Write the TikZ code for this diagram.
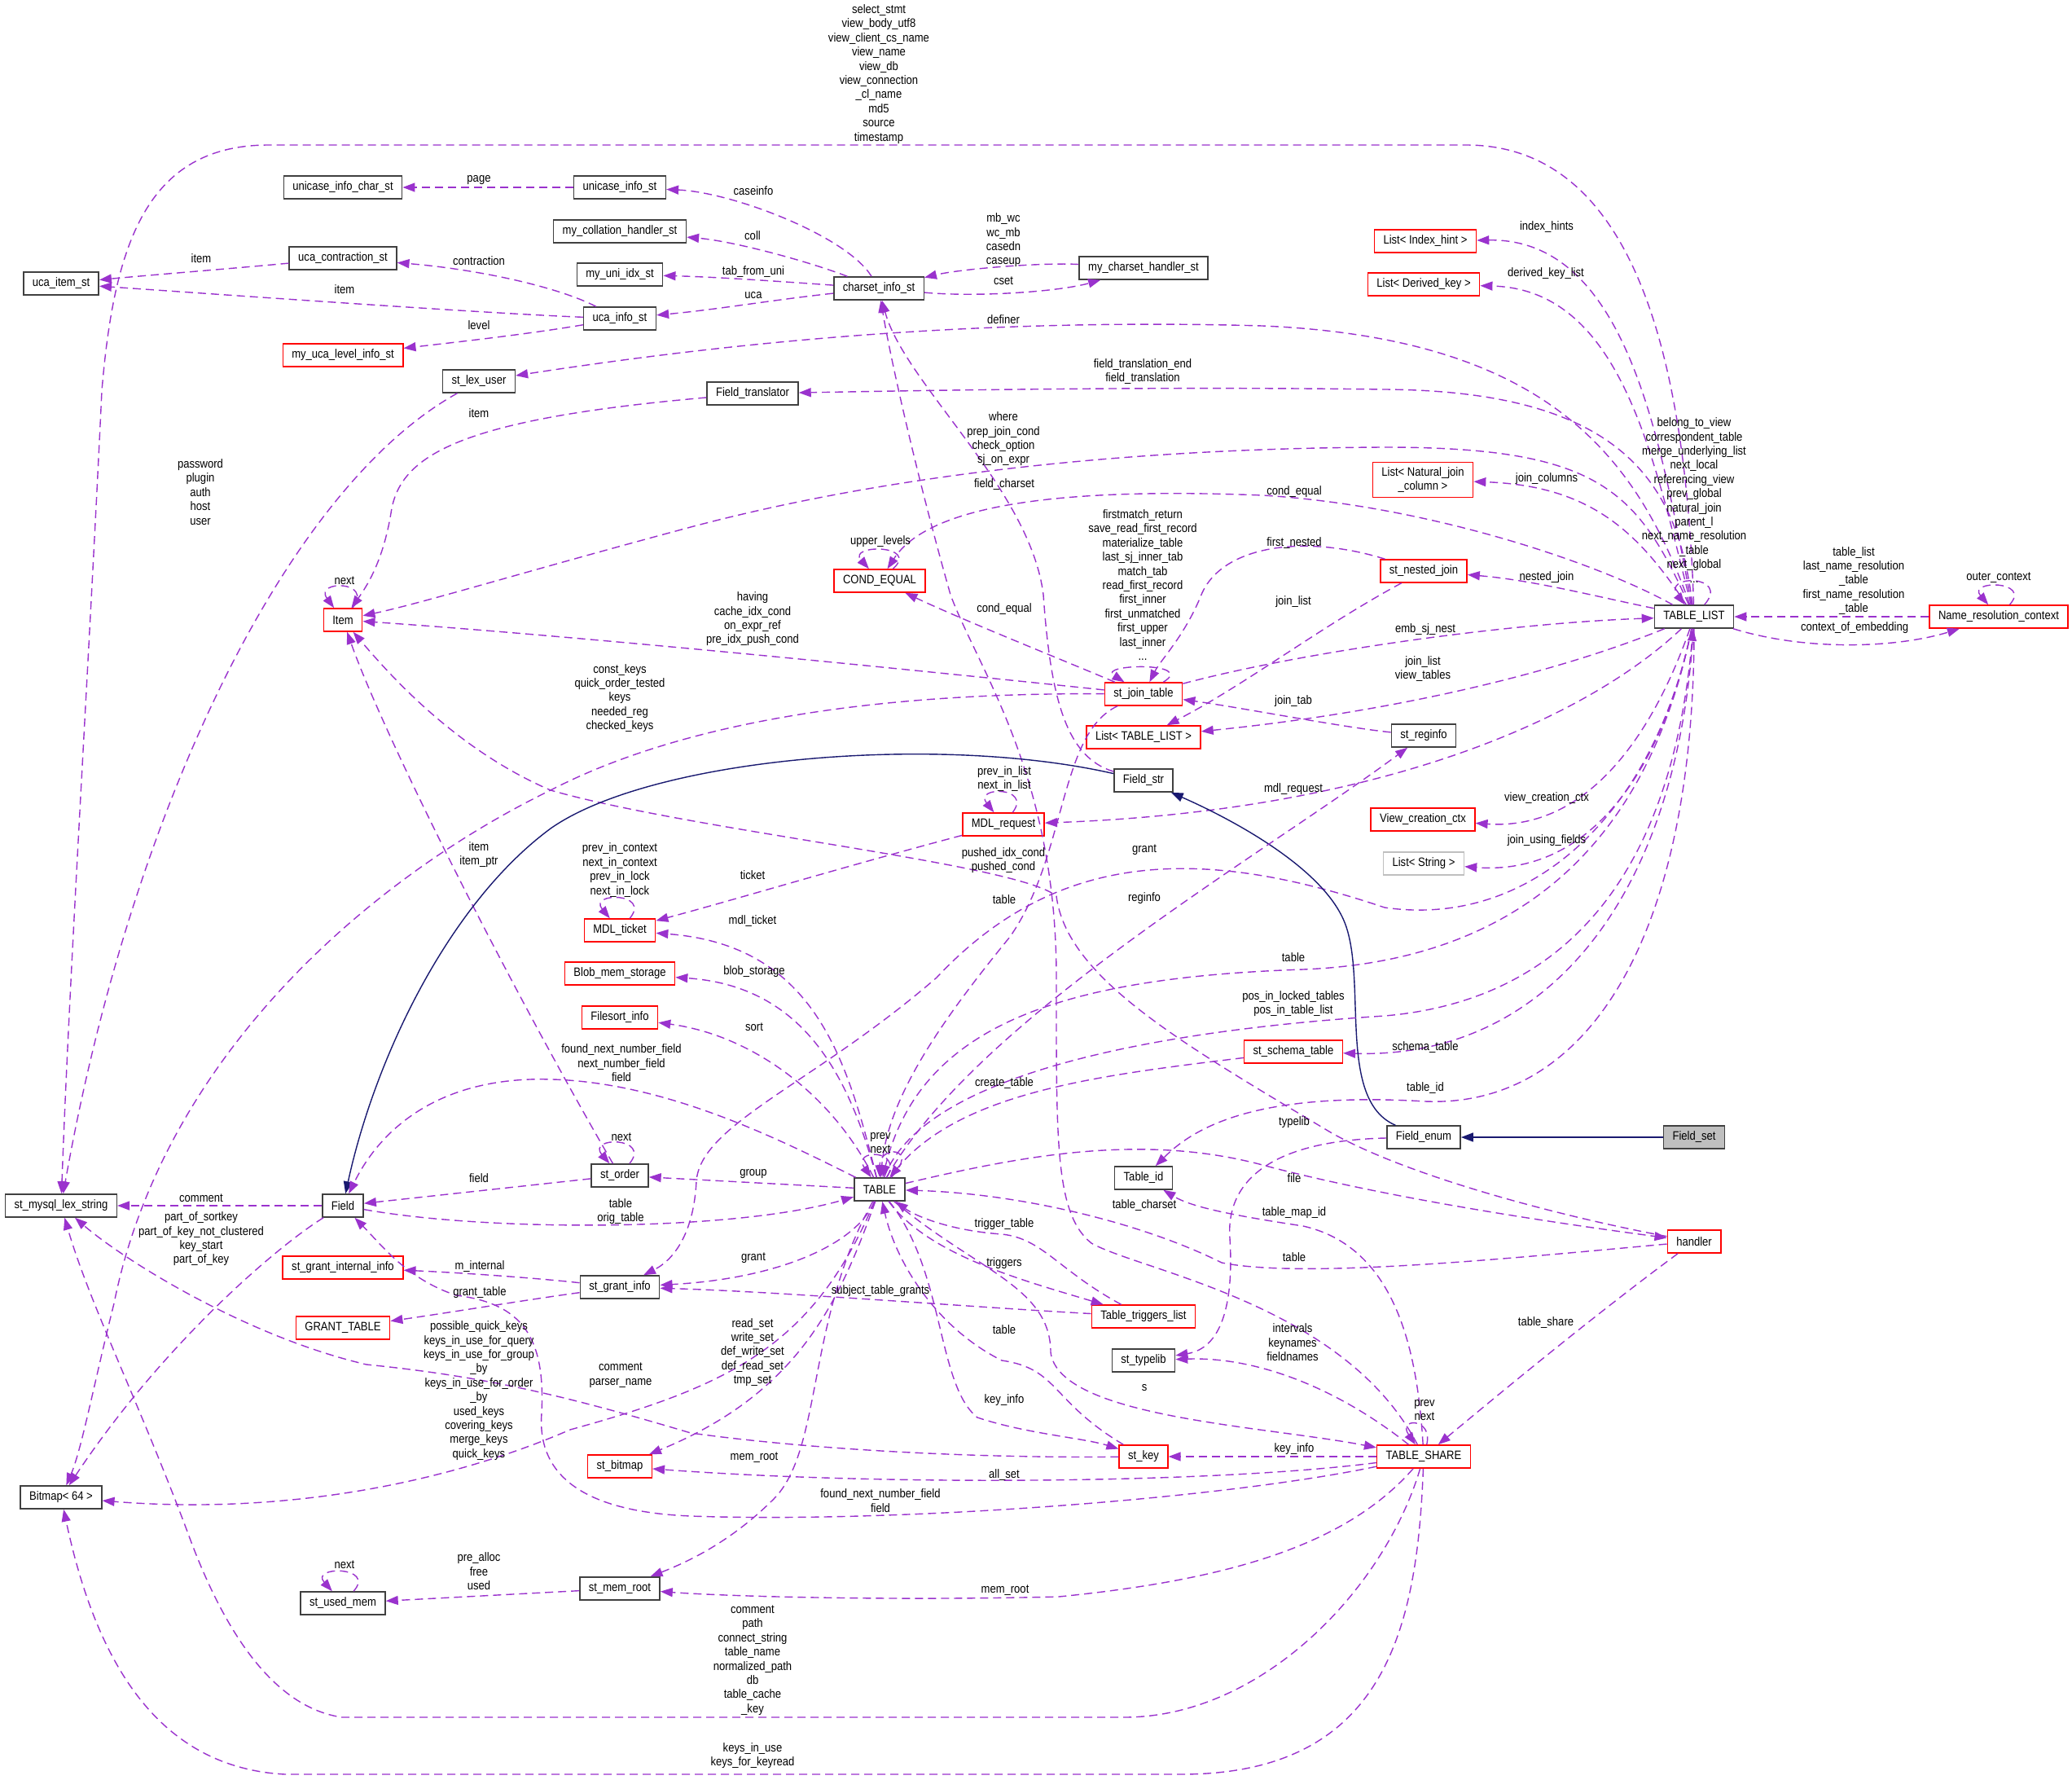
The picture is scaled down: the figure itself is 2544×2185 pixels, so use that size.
\documentclass[tikz,border=0pt]{standalone}
\usepackage{fontspec}
\setmainfont[FakeStretch=0.87]{Liberation Sans}
\usetikzlibrary{arrows.meta}
\definecolor{edgepurple}{HTML}{9A32CD}
\definecolor{inhblue}{HTML}{191970}
\definecolor{boxgray}{HTML}{404040}
\definecolor{undocred}{HTML}{FF0000}
\definecolor{extgray}{HTML}{BFBFBF}

\begin{document}
\begin{tikzpicture}[
  x=1pt, y=-1pt,
  font=\fontsize{15}{17.4}\selectfont,
  cls/.style={
    draw=boxgray, line width=1.5pt, fill=white,
    minimum height=28pt, inner xsep=11pt, inner ysep=2pt, align=center
  },
  undoc/.style={cls, draw=undocred},
  ext/.style={cls, draw=extgray},
  self/.style={cls, fill=extgray},
  dep/.style={
    draw=edgepurple, line width=1.4pt, dash pattern=on 10pt off 6pt,
    -{Triangle[length=15pt, width=11pt]}
  },
  inh/.style={draw=inhblue, line width=1.4pt, -{Triangle[length=15pt, width=11pt]}},
  lab/.style={align=center, inner sep=0pt}
]
\useasboundingbox (0,0) rectangle (2544,2185);

% --- 1. Classes ---
\node[cls] (ucaitem) at (75,348) {uca\_item\_st};
\node[cls] (unichar) at (421,230) {unicase\_info\_char\_st};
\node[cls] (ucacontr) at (421,317) {uca\_contraction\_st};
\node[undoc] (ucalevel) at (421,436) {my\_uca\_level\_info\_st};
\node[cls] (unicase) at (761,230) {unicase\_info\_st};
\node[cls] (collh) at (761,284) {my\_collation\_handler\_st};
\node[cls] (uniidx) at (761,337) {my\_uni\_idx\_st};
\node[cls] (ucainfo) at (761,391) {uca\_info\_st};
\node[cls] (lexuser) at (588,468) {st\_lex\_user};
\node[cls] (charset) at (1079,354) {charset\_info\_st};
\node[cls] (cshandler) at (1404,329) {my\_charset\_handler\_st};
\node[cls] (ftrans) at (924,483) {Field\_translator};
\node[undoc] (condeq) at (1080,713) {COND\_EQUAL};
\node[undoc] (item) at (421,761) {Item};
\node[undoc] (idxhint) at (1750,296) {List< Index\_hint >};
\node[undoc] (derkey) at (1748,349) {List< Derived\_key >};
\node[undoc, inner ysep=6pt] (natjoin) at (1747,589) {List< Natural\_join\\\_column >};
\node[undoc] (nestjoin) at (1748,701) {st\_nested\_join};
\node[cls] (tlist) at (2080,757) {TABLE\_LIST};
\node[undoc] (nrctx) at (2454,757) {Name\_resolution\_context};
\node[undoc] (jtab) at (1404,852) {st\_join\_table};
\node[undoc] (tllist) at (1404,905) {List< TABLE\_LIST >};
\node[cls] (reginfo) at (1748,903) {st\_reginfo};
\node[cls] (fstr) at (1404,958) {Field\_str};
\node[undoc] (mdlreq) at (1232,1012) {MDL\_request};
\node[undoc] (vctx) at (1747,1006) {View\_creation\_ctx};
\node[ext] (lstr) at (1748,1060) {List< String >};
\node[undoc] (mdlticket) at (761,1142) {MDL\_ticket};
\node[undoc] (blob) at (761,1195) {Blob\_mem\_storage};
\node[undoc] (fsort) at (761,1249) {Filesort\_info};
\node[undoc] (schema) at (1588,1291) {st\_schema\_table};
\node[cls] (fenum) at (1748,1396) {Field\_enum};
\node[self] (fset) at (2080,1396) {Field\_set};
\node[cls] (order) at (761,1443) {st\_order};
\node[cls] (tableid) at (1404,1446) {Table\_id};
\node[cls] (table) at (1080,1460) {TABLE};
\node[cls] (lexstr) at (75,1480) {st\_mysql\_lex\_string};
\node[cls] (field) at (421,1480) {Field};
\node[undoc] (handler) at (2080,1524) {handler};
\node[undoc] (grantint) at (421,1556) {st\_grant\_internal\_info};
\node[cls] (grantinfo) at (761,1580) {st\_grant\_info};
\node[undoc] (granttab) at (421,1630) {GRANT\_TABLE};
\node[undoc] (trig) at (1404,1616) {Table\_triggers\_list};
\node[cls] (typelib) at (1404,1670) {st\_typelib};
\node[undoc] (stkey) at (1404,1788) {st\_key};
\node[undoc] (tshare) at (1748,1788) {TABLE\_SHARE};
\node[undoc] (bitmap) at (761,1800) {st\_bitmap};
\node[cls] (bitmapsf) at (75,1838) {Bitmap< 64 >};
\node[cls] (usedmem) at (421,1968) {st\_used\_mem};
\node[cls] (memroot) at (761,1950) {st\_mem\_root};

% --- 2. Charset members ---
\draw[dep] (unicase) -- (unichar);
\draw[dep] (charset) .. controls (1040,290) and (900,236) .. (unicase);
\draw[dep] (charset) .. controls (990,320) and (900,296) .. (collh);
\draw[dep] (charset) .. controls (950,345) and (880,340) .. (uniidx);
\draw[dep] (charset) .. controls (950,368) and (880,380) .. (ucainfo);
\draw[dep] (charset) .. controls (1200,365) and (1300,358) .. (cshandler);
\draw[dep] (cshandler) .. controls (1280,322) and (1180,330) .. (charset);
\draw[dep] (ucacontr) .. controls (280,330) and (180,338) .. (ucaitem);
\draw[dep] (ucainfo) .. controls (680,350) and (580,330) .. (ucacontr);
\draw[dep] (ucainfo) .. controls (600,385) and (250,360) .. (ucaitem);
\draw[dep] (ucainfo) .. controls (650,410) and (560,420) .. (ucalevel);
\draw[dep] (tshare) .. controls (1650,1600) and (1400,1560) .. (1340,1526)
  .. controls (1295,1490) and (1297,1400) .. (1297,1200)
  .. controls (1297,950) and (1200,820) .. (1167,730)
  .. controls (1130,600) and (1095,450) .. (charset);
\draw[dep] (fstr) .. controls (1310,930) and (1290,860) .. (1281,730)
  .. controls (1265,600) and (1110,470) .. (charset);

% --- 3. TABLE_LIST members ---
\draw[dep] (tlist) .. controls (2070,450) and (2010,178) .. (1800,178) -- (330,178)
  .. controls (180,178) and (140,300) .. (125,480)
  .. controls (110,800) and (85,1200) .. (lexstr);
\draw[dep] (lexuser) .. controls (350,600) and (160,1000) .. (lexstr);
\draw[dep] (tlist) .. controls (2010,560) and (1900,415) .. (1550,400)
  .. controls (1200,390) and (900,420) .. (lexuser);
\draw[dep] (tlist) .. controls (2060,600) and (2000,480) .. (1700,478)
  .. controls (1400,474) and (1100,480) .. (ftrans);
\draw[dep] (tlist) .. controls (2010,600) and (1960,549) .. (1700,549)
  .. controls (1400,550) and (1100,580) .. (848,647)
  .. controls (650,700) and (520,740) .. (item);
\draw[dep] (tlist) .. controls (1960,690) and (1750,620) .. (1550,608)
  .. controls (1300,598) and (1140,620) .. (condeq);
\draw[dep] (nrctx) -- (tlist);
\draw[dep] (tlist) .. controls (2220,800) and (2330,795) .. (nrctx);
\draw[dep] (nrctx) .. controls (2495,712) and (2415,712) .. (nrctx);
\draw[dep] (tlist) .. controls (2125,705) and (2040,705) .. (tlist);
\draw[dep] (tlist) .. controls (2040,550) and (2000,292) .. (idxhint);
\draw[dep] (tlist) .. controls (2030,560) and (1990,355) .. (derkey);
\draw[dep] (tlist) .. controls (2010,650) and (1950,596) .. (natjoin);
\draw[dep] (tlist) .. controls (1950,730) and (1880,712) .. (nestjoin);
\draw[dep] (tlist) .. controls (1900,830) and (1700,875) .. (tllist);
\draw[dep] (tlist) .. controls (1950,880) and (1700,995) .. (mdlreq);
\draw[dep] (tlist) .. controls (2030,900) and (1950,1020) .. (vctx);
\draw[dep] (tlist) .. controls (2040,950) and (1950,1075) .. (lstr);
\draw[dep] (tlist) .. controls (2060,1100) and (1900,1300) .. (schema);
\draw[dep] (tlist) .. controls (2080,1150) and (1950,1360) .. (1750,1352)
  .. controls (1550,1340) and (1470,1380) .. (tableid);
\draw[dep] (tlist) .. controls (2020,1050) and (1850,1180) .. (1600,1190)
  .. controls (1300,1200) and (1130,1260) .. (table);
\draw[dep] (tlist) .. controls (2030,1000) and (1880,1140) .. (1700,1114)
  .. controls (1480,1040) and (1300,1040) .. (1150,1200)
  .. controls (1000,1330) and (860,1380) .. (855,1450)
  .. controls (852,1510) and (830,1545) .. (grantinfo);

% --- 4. Join tables ---
\draw[dep] (ftrans) .. controls (560,515) and (490,560) .. (480,630)
  .. controls (470,690) and (450,720) .. (item);
\draw[dep] (item) .. controls (460,712) and (385,712) .. (item);
\draw[dep] (jtab) .. controls (1100,820) and (700,780) .. (item);
\draw[dep] (jtab) .. controls (1470,812) and (1345,815) .. (jtab);
\draw[dep] (jtab) .. controls (1280,800) and (1180,760) .. (condeq);
\draw[dep] (condeq) .. controls (1130,668) and (1040,668) .. (condeq);
\draw[dep] (jtab) .. controls (1600,800) and (1850,765) .. (tlist);
\draw[dep] (nestjoin) .. controls (1600,655) and (1500,670) .. (1475,730)
  .. controls (1455,780) and (1425,810) .. (jtab);
\draw[dep] (nestjoin) .. controls (1620,770) and (1530,840) .. (tllist);
\draw[dep] (reginfo) .. controls (1650,893) and (1520,868) .. (jtab);
\draw[dep] (jtab) .. controls (1300,900) and (1310,1050) .. (1240,1150)
  .. controls (1150,1260) and (1090,1350) .. (table);
\draw[dep] (jtab) .. controls (1100,850) and (850,880) .. (676,970)
  .. controls (450,1080) and (200,1300) .. (140,1600)
  .. controls (115,1700) and (100,1780) .. (bitmapsf);
\draw[dep] (handler) .. controls (1900,1490) and (1720,1440) .. (1632,1389)
  .. controls (1450,1280) and (1310,1200) .. (1297,1100)
  .. controls (1250,1060) and (850,1020) .. (676,970)
  .. controls (560,920) and (480,830) .. (item);
\draw[dep] (order) .. controls (620,1200) and (470,900) .. (item);

% --- 5. Locks ---
\draw[dep] (mdlreq) .. controls (1268,965) and (1195,965) .. (mdlreq);
\draw[dep] (mdlreq) .. controls (1050,1060) and (900,1105) .. (mdlticket);
\draw[dep] (mdlticket) .. controls (800,1095) and (722,1095) .. (mdlticket);

% --- 6. Field hierarchy ---
\draw[inh] (fstr) .. controls (1150,900) and (800,930) .. (676,1017)
  .. controls (550,1110) and (460,1300) .. (field);
\draw[inh] (fenum) .. controls (1640,1350) and (1680,1200) .. (1650,1130)
  .. controls (1620,1060) and (1500,1000) .. (fstr);
\draw[inh] (fset) -- (fenum);
\draw[dep] (fenum) .. controls (1560,1400) and (1505,1450) .. (1510,1520)
  .. controls (1515,1600) and (1500,1655) .. (typelib);
\draw[dep] (field) .. controls (600,1512) and (900,1512) .. (table);
\draw[dep] (field) -- (lexstr);
\draw[dep] (field) .. controls (340,1530) and (200,1650) .. (bitmapsf);
\draw[dep] (order) -- (field);
\draw[dep] (order) .. controls (800,1395) and (720,1395) .. (order);

% --- 7. TABLE members ---
\draw[dep] (table) .. controls (1200,1250) and (1550,1050) .. (reginfo);
\draw[dep] (table) .. controls (1040,1300) and (1000,1160) .. (mdlticket);
\draw[dep] (table) .. controls (1040,1310) and (980,1210) .. (blob);
\draw[dep] (table) .. controls (1020,1340) and (920,1270) .. (fsort);
\draw[dep] (table) .. controls (950,1395) and (800,1320) .. (650,1325)
  .. controls (520,1330) and (460,1400) .. (field);
\draw[dep] (table) -- (order);
\draw[dep] (table) .. controls (1140,1300) and (1500,1260) .. (1700,1247)
  .. controls (1900,1230) and (2050,1100) .. (tlist);
\draw[dep] (schema) .. controls (1350,1320) and (1180,1340) .. (table);
\draw[dep] (table) .. controls (1110,1410) and (1045,1410) .. (table);
\draw[dep] (table) .. controls (1130,1408) and (1080,1405) .. (table);
\draw[dep] (table) .. controls (1200,1560) and (1290,1580) .. (1290,1660)
  .. controls (1300,1740) and (1550,1750) .. (tshare);
\draw[dep] (table) .. controls (1160,1560) and (1150,1700) .. (1200,1740)
  .. controls (1260,1760) and (1330,1765) .. (stkey);
\draw[dep] (stkey) .. controls (1290,1720) and (1300,1680) .. (1230,1670)
  .. controls (1150,1630) and (1100,1550) .. (table);
\draw[dep] (table) .. controls (1140,1540) and (1250,1570) .. (trig);
\draw[dep] (trig) .. controls (1300,1560) and (1280,1520) .. (1230,1515)
  .. controls (1160,1510) and (1120,1490) .. (table);
\draw[dep] (trig) .. controls (1200,1605) and (950,1585) .. (grantinfo);
\draw[dep] (table) .. controls (1050,1530) and (950,1570) .. (grantinfo);
\draw[dep] (grantinfo) .. controls (650,1568) and (560,1562) .. (grantint);
\draw[dep] (grantinfo) .. controls (650,1595) and (560,1610) .. (granttab);
\draw[dep] (table) .. controls (1000,1650) and (900,1700) .. (700,1755)
  .. controls (550,1820) and (350,1860) .. (bitmapsf);
\draw[dep] (table) .. controls (1030,1600) and (980,1710) .. (bitmap);
\draw[dep] (table) .. controls (990,1620) and (1010,1780) .. (950,1840)
  .. controls (900,1890) and (850,1915) .. (memroot);
\draw[dep] (memroot) -- (usedmem);
\draw[dep] (usedmem) .. controls (462,1922) and (380,1922) .. (usedmem);
\draw[dep] (handler) .. controls (1850,1545) and (1600,1570) .. (1500,1550)
  .. controls (1400,1500) and (1250,1465) .. (table);
\draw[dep] (table) .. controls (1250,1420) and (1400,1390) .. (1550,1430)
  .. controls (1700,1470) and (1900,1500) .. (handler);

% --- 8. TABLE_SHARE members ---
\draw[dep] (tshare) .. controls (1740,1650) and (1710,1530) .. (1600,1505)
  .. controls (1500,1490) and (1460,1480) .. (tableid);
\draw[dep] (tshare) .. controls (1650,1710) and (1550,1665) .. (typelib);
\draw[dep] (tshare) -- (stkey);
\draw[dep] (tshare) .. controls (1500,1820) and (1100,1825) .. (bitmap);
\draw[dep] (tshare) .. controls (1650,1900) and (1500,1940) .. (1300,1960)
  .. controls (1100,1965) and (900,1960) .. (memroot);
\draw[dep] (tshare) .. controls (1500,1840) and (1100,1870) .. (848,1861)
  .. controls (700,1855) and (660,1800) .. (665,1735)
  .. controls (670,1640) and (640,1600) .. (560,1590)
  .. controls (500,1570) and (470,1530) .. (field);
\draw[dep] (tshare) .. controls (1700,1950) and (1550,2108) .. (1380,2108) -- (420,2108)
  .. controls (330,2095) and (270,1990) .. (230,1880)
  .. controls (170,1720) and (110,1600) .. (lexstr);
\draw[dep] (tshare) .. controls (1740,2000) and (1700,2178) .. (1450,2178) -- (350,2178)
  .. controls (200,2170) and (120,2050) .. (bitmapsf);
\draw[dep] (stkey) .. controls (1200,1790) and (1000,1780) .. (848,1759)
  .. controls (700,1715) and (600,1690) .. (450,1675)
  .. controls (300,1640) and (150,1545) .. (lexstr);
\draw[dep] (tshare) .. controls (1760,1740) and (1715,1740) .. (tshare);
\draw[dep] (handler) .. controls (1950,1620) and (1830,1720) .. (tshare);

% --- 9. Member names ---
\node[lab] (l-page) at (588,221) {page};
\node[lab] (l-caseinfo) at (925,234) {caseinfo};
\node[lab] (l-coll) at (924,289) {coll};
\node[lab] (l-tabuni) at (925,334) {tab\_from\_uni};
\node[lab] (l-uca) at (925,363) {uca};
\node[lab] (l-mbwc) at (1232,295) {mb\_wc\\wc\_mb\\casedn\\caseup};
\node[lab] (l-cset) at (1232,345) {cset};
\node[lab] (l-item1) at (247,317) {item};
\node[lab] (l-contr) at (588,320) {contraction};
\node[lab] (l-item2) at (423,355) {item};
\node[lab] (l-level) at (588,399) {level};
\node[lab] (l-definer) at (1232,392) {definer};
\node[lab] (l-ftrans) at (1403,456) {field\_translation\_end\\field\_translation};
\node[lab] (l-item3) at (588,507) {item};
\node[lab] (l-user) at (246,604) {password\\plugin\\auth\\host\\user};
\node[lab] (l-view) at (1079,91) {select\_stmt\\view\_body\_utf8\\view\_client\_cs\_name\\view\_name\\view\_db\\view\_connection\\\_cl\_name\\md5\\source\\timestamp};
\node[lab] (l-where) at (1232,539) {where\\prep\_join\_cond\\check\_option\\sj\_on\_expr};
\node[lab] (l-fcharset) at (1233,595) {field\_charset};
\node[lab] (l-condeq1) at (1589,604) {cond\_equal};
\node[lab] (l-jtabself) at (1403,718) {firstmatch\_return\\save\_read\_first\_record\\materialize\_table\\last\_sj\_inner\_tab\\match\_tab\\read\_first\_record\\first\_inner\\first\_unmatched\\first\_upper\\last\_inner\\...};
\node[lab] (l-firstnest) at (1589,667) {first\_nested};
\node[lab] (l-upper) at (1081,665) {upper\_levels};
\node[lab] (l-idxhint) at (1899,279) {index\_hints};
\node[lab] (l-derkey) at (1898,336) {derived\_key\_list};
\node[lab] (l-joincol) at (1899,588) {join\_columns};
\node[lab] (l-nestjoin) at (1899,709) {nested\_join};
\node[lab] (l-tlself) at (2080,614) {belong\_to\_view\\correspondent\_table\\merge\_underlying\_list\\next\_local\\referencing\_view\\prev\_global\\natural\_join\\parent\_l\\next\_name\_resolution\\\_table\\next\_global\\...};
\node[lab] (l-tablelist) at (2276,713) {table\_list\\last\_name\_resolution\\\_table\\first\_name\_resolution\\\_table};
\node[lab] (l-outer) at (2454,709) {outer\_context};
\node[lab] (l-embctx) at (2277,771) {context\_of\_embedding};
\node[lab] (l-embsj) at (1750,773) {emb\_sj\_nest};
\node[lab] (l-joinview) at (1747,821) {join\_list\\view\_tables};
\node[lab] (l-joinlist) at (1588,739) {join\_list};
\node[lab] (l-jointab) at (1588,861) {join\_tab};
\node[lab] (l-mdlreq) at (1588,969) {mdl\_request};
\node[lab] (l-vctx) at (1899,980) {view\_creation\_ctx};
\node[lab] (l-jfields) at (1899,1032) {join\_using\_fields};
\node[lab] (l-schema) at (1750,1286) {schema\_table};
\node[lab] (l-tableid) at (1750,1336) {table\_id};
\node[lab] (l-having) at (924,760) {having\\cache\_idx\_cond\\on\_expr\_ref\\pre\_idx\_push\_cond};
\node[lab] (l-condeq2) at (1233,748) {cond\_equal};
\node[lab] (l-keys) at (761,857) {const\_keys\\quick\_order\_tested\\keys\\needed\_reg\\checked\_keys};
\node[lab] (l-itemptr) at (588,1049) {item\\item\_ptr};
\node[lab] (l-ctx) at (761,1068) {prev\_in\_context\\next\_in\_context\\prev\_in\_lock\\next\_in\_lock};
\node[lab] (l-inlist) at (1233,956) {prev\_in\_list\\next\_in\_list};
\node[lab] (l-ticket) at (924,1074) {ticket};
\node[lab] (l-pushed) at (1232,1056) {pushed\_idx\_cond\\pushed\_cond};
\node[lab] (l-grant1) at (1405,1043) {grant};
\node[lab] (l-table1) at (1233,1104) {table};
\node[lab] (l-reginfo) at (1405,1103) {reginfo};
\node[lab] (l-mdlticket) at (924,1131) {mdl\_ticket};
\node[lab] (l-blob) at (926,1193) {blob\_storage};
\node[lab] (l-table2) at (1588,1175) {table};
\node[lab] (l-posin) at (1588,1232) {pos\_in\_locked\_tables\\pos\_in\_table\_list};
\node[lab] (l-sort) at (926,1261) {sort};
\node[lab] (l-create) at (1233,1330) {create\_table};
\node[lab] (l-nextnum) at (763,1305) {found\_next\_number\_field\\next\_number\_field\\field};
\node[lab] (l-typelib) at (1589,1378) {typelib};
\node[lab] (l-tabprev) at (1081,1403) {prev\\next};
\node[lab] (l-ordnext) at (763,1396) {next};
\node[lab] (l-group) at (925,1441) {group};
\node[lab] (l-field) at (588,1446) {field};
\node[lab] (l-file) at (1589,1446) {file};
\node[lab] (l-origtab) at (762,1487) {table\\orig\_table};
\node[lab] (l-comment1) at (247,1471) {comment};
\node[lab] (l-sortkey) at (247,1521) {part\_of\_sortkey\\part\_of\_key\_not\_clustered\\key\_start\\part\_of\_key};
\node[lab] (l-minternal) at (589,1555) {m\_internal};
\node[lab] (l-granttab) at (589,1587) {grant\_table};
\node[lab] (l-tcharset) at (1405,1480) {table\_charset};
\node[lab] (l-mapid) at (1589,1489) {table\_map\_id};
\node[lab] (l-trigtab) at (1233,1503) {trigger\_table};
\node[lab] (l-table3) at (1589,1543) {table};
\node[lab] (l-grant2) at (925,1544) {grant};
\node[lab] (l-triggers) at (1233,1551) {triggers};
\node[lab] (l-subject) at (1081,1585) {subject\_table\_grants};
\node[lab] (l-sets) at (924,1660) {read\_set\\write\_set\\def\_write\_set\\def\_read\_set\\tmp\_set};
\node[lab] (l-table4) at (1233,1632) {table};
\node[lab] (l-intervals) at (1587,1648) {intervals\\keynames\\fieldnames};
\node[lab] (l-quick) at (588,1707) {possible\_quick\_keys\\keys\_in\_use\_for\_query\\keys\_in\_use\_for\_group\\\_by\\keys\_in\_use\_for\_order\\\_by\\used\_keys\\covering\_keys\\merge\_keys\\quick\_keys};
\node[lab] (l-parser) at (762,1688) {comment\\parser\_name};
\node[lab] (l-s) at (1405,1704) {s};
\node[lab] (l-keyinfo1) at (1233,1719) {key\_info};
\node[lab] (l-keyinfo2) at (1589,1779) {key\_info};
\node[lab] (l-memroot1) at (926,1789) {mem\_root};
\node[lab] (l-allset) at (1233,1811) {all\_set};
\node[lab] (l-nextnum2) at (1081,1842) {found\_next\_number\_field\\field};
\node[lab] (l-prealloc) at (588,1929) {pre\_alloc\\free\\used};
\node[lab] (l-usednext) at (423,1921) {next};
\node[lab] (l-memroot2) at (1234,1952) {mem\_root};
\node[lab] (l-paths) at (924,2038) {comment\\path\\connect\_string\\table\_name\\normalized\_path\\db\\table\_cache\\\_key};
\node[lab] (l-keysuse) at (924,2155) {keys\_in\_use\\keys\_for\_keyread};
\node[lab] (l-tshare) at (1898,1624) {table\_share};
\node[lab] (l-tsprev) at (1749,1731) {prev\\next};
\node[lab] (l-itemnext) at (423,713) {next};

\end{tikzpicture}
\end{document}
